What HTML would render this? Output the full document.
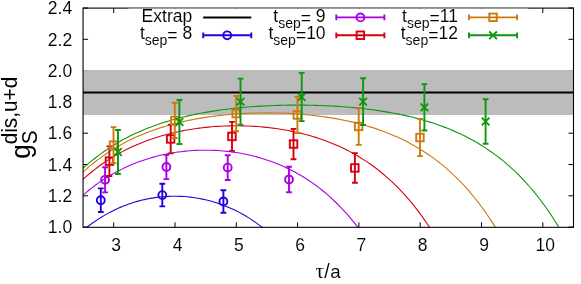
<!DOCTYPE html>
<html><head><meta charset="utf-8"><title>plot</title>
<style>html,body{margin:0;padding:0;background:#fff;}body{width:581px;height:284px;position:relative;overflow:hidden;font-family:"Liberation Sans",sans-serif;}</style>
</head><body>
<svg width="581" height="284" viewBox="0 0 581 284" style="position:absolute;left:0;top:0;will-change:transform">
<defs><clipPath id="cp"><rect x="83.05" y="8.10" width="490.45" height="219.20"/></clipPath></defs>
<g stroke="#000" stroke-width="1" fill="none">
<path d="M83.05 227.1h5M573.5 227.1h-5"/>
<path d="M83.05 195.8h5M573.5 195.8h-5"/>
<path d="M83.05 164.5h5M573.5 164.5h-5"/>
<path d="M83.05 133.2h5M573.5 133.2h-5"/>
<path d="M83.05 101.9h5M573.5 101.9h-5"/>
<path d="M83.05 70.6h5M573.5 70.6h-5"/>
<path d="M83.05 39.3h5M573.5 39.3h-5"/>
<path d="M83.05 8.0h5M573.5 8.0h-5"/>
<path d="M113.7 227.3v-5M113.7 8.1v5"/>
<path d="M175.0 227.3v-5M175.0 8.1v5"/>
<path d="M236.3 227.3v-5M236.3 8.1v5"/>
<path d="M297.6 227.3v-5M297.6 8.1v5"/>
<path d="M358.9 227.3v-5M358.9 8.1v5"/>
<path d="M420.2 227.3v-5M420.2 8.1v5"/>
<path d="M481.5 227.3v-5M481.5 8.1v5"/>
<path d="M542.8 227.3v-5M542.8 8.1v5"/>
</g>
<rect x="83.05" y="70.1" width="490.45" height="44.9" fill="#bcbcbc"/>
<line x1="83.05" x2="573.5" y1="92.5" y2="92.5" stroke="#000" stroke-width="1.85"/>
<g clip-path="url(#cp)" fill="none" stroke-width="1.1">
<path d="M83.00 230.40 L86.06 227.92 L89.12 225.56 L92.19 223.31 L95.25 221.17 L98.31 219.13 L101.37 217.20 L104.44 215.37 L107.50 213.63 L110.56 211.99 L113.62 210.45 L116.69 208.99 L119.75 207.62 L122.81 206.34 L125.87 205.14 L128.94 204.02 L132.00 202.98 L135.06 202.02 L138.12 201.14 L141.19 200.33 L144.25 199.60 L147.31 198.94 L150.37 198.36 L153.44 197.85 L156.50 197.41 L159.56 197.03 L162.62 196.73 L165.69 196.50 L168.75 196.34 L171.81 196.24 L174.87 196.22 L177.94 196.26 L181.00 196.37 L184.06 196.55 L187.12 196.80 L190.19 197.12 L193.25 197.50 L196.31 197.96 L199.37 198.49 L202.44 199.10 L205.50 199.77 L208.56 200.52 L211.62 201.34 L214.69 202.24 L217.75 203.22 L220.81 204.28 L223.87 205.42 L226.94 206.64 L230.00 207.94 L233.06 209.33 L236.12 210.81 L239.19 212.38 L242.25 214.04 L245.31 215.80 L248.37 217.65 L251.44 219.61 L254.50 221.67 L257.56 223.84 L260.62 226.11 L263.69 228.50 L266.75 231.01 L269.81 233.64 L272.87 236.39 L275.94 239.27 L279.00 242.29" stroke="#2800de"/>
<path d="M83.00 195.17 L86.06 192.55 L89.12 190.03 L92.19 187.62 L95.25 185.31 L98.31 183.11 L101.37 180.99 L104.44 178.97 L107.50 177.04 L110.56 175.20 L113.62 173.43 L116.69 171.75 L119.75 170.15 L122.81 168.63 L125.87 167.18 L128.94 165.80 L132.00 164.49 L135.06 163.24 L138.12 162.07 L141.19 160.96 L144.25 159.91 L147.31 158.92 L150.37 157.99 L153.44 157.11 L156.50 156.30 L159.56 155.54 L162.62 154.83 L165.69 154.18 L168.75 153.58 L171.81 153.03 L174.87 152.53 L177.94 152.08 L181.00 151.68 L184.06 151.33 L187.12 151.03 L190.19 150.77 L193.25 150.56 L196.31 150.40 L199.37 150.29 L202.44 150.22 L205.50 150.19 L208.56 150.22 L211.62 150.29 L214.69 150.40 L217.75 150.56 L220.81 150.77 L223.87 151.03 L226.94 151.33 L230.00 151.68 L233.06 152.08 L236.12 152.53 L239.19 153.03 L242.25 153.58 L245.31 154.18 L248.37 154.83 L251.44 155.54 L254.50 156.30 L257.56 157.11 L260.62 157.99 L263.69 158.92 L266.75 159.91 L269.81 160.96 L272.87 162.07 L275.94 163.24 L279.00 164.49 L282.06 165.80 L285.12 167.18 L288.19 168.63 L291.25 170.15 L294.31 171.75 L297.37 173.43 L300.44 175.20 L303.50 177.04 L306.56 178.97 L309.62 180.99 L312.69 183.11 L315.75 185.31 L318.81 187.62 L321.87 190.03 L324.94 192.55 L328.00 195.17 L331.06 197.91 L334.12 200.77 L337.19 203.75 L340.25 206.86 L343.31 210.10 L346.37 213.47 L349.44 216.98 L352.50 220.65 L355.56 224.46 L358.62 228.43 L361.69 232.57 L364.75 236.87 L367.81 241.35" stroke="#aa00e6"/>
<path d="M83.00 179.29 L86.06 176.57 L89.12 173.97 L92.19 171.46 L95.25 169.06 L98.31 166.75 L101.37 164.54 L104.44 162.41 L107.50 160.38 L110.56 158.42 L113.62 156.55 L116.69 154.75 L119.75 153.03 L122.81 151.38 L125.87 149.81 L128.94 148.30 L132.00 146.85 L135.06 145.47 L138.12 144.15 L141.19 142.89 L144.25 141.68 L147.31 140.53 L150.37 139.44 L153.44 138.40 L156.50 137.40 L159.56 136.46 L162.62 135.56 L165.69 134.71 L168.75 133.91 L171.81 133.15 L174.87 132.43 L177.94 131.76 L181.00 131.12 L184.06 130.52 L187.12 129.97 L190.19 129.45 L193.25 128.96 L196.31 128.52 L199.37 128.11 L202.44 127.73 L205.50 127.39 L208.56 127.08 L211.62 126.81 L214.69 126.57 L217.75 126.36 L220.81 126.19 L223.87 126.04 L226.94 125.93 L230.00 125.85 L233.06 125.81 L236.12 125.79 L239.19 125.81 L242.25 125.85 L245.31 125.93 L248.37 126.04 L251.44 126.19 L254.50 126.36 L257.56 126.57 L260.62 126.81 L263.69 127.08 L266.75 127.39 L269.81 127.73 L272.87 128.11 L275.94 128.52 L279.00 128.96 L282.06 129.45 L285.12 129.97 L288.19 130.52 L291.25 131.12 L294.31 131.76 L297.37 132.43 L300.44 133.15 L303.50 133.91 L306.56 134.71 L309.62 135.56 L312.69 136.46 L315.75 137.40 L318.81 138.40 L321.87 139.44 L324.94 140.53 L328.00 141.68 L331.06 142.89 L334.12 144.15 L337.19 145.47 L340.25 146.85 L343.31 148.30 L346.37 149.81 L349.44 151.38 L352.50 153.03 L355.56 154.75 L358.62 156.55 L361.69 158.42 L364.75 160.38 L367.81 162.41 L370.87 164.54 L373.94 166.75 L377.00 169.06 L380.06 171.46 L383.12 173.97 L386.19 176.57 L389.25 179.29 L392.31 182.12 L395.37 185.06 L398.44 188.12 L401.50 191.31 L404.56 194.63 L407.62 198.09 L410.69 201.68 L413.75 205.42 L416.81 209.31 L419.87 213.36 L422.94 217.57 L426.00 221.96 L429.06 226.51 L432.12 231.25 L435.19 236.18 L438.25 241.31" stroke="#d8000f"/>
<path d="M83.00 172.04 L86.06 169.30 L89.12 166.67 L92.19 164.15 L95.25 161.72 L98.31 159.39 L101.37 157.14 L104.44 154.99 L107.50 152.92 L110.56 150.93 L113.62 149.02 L116.69 147.19 L119.75 145.43 L122.81 143.73 L125.87 142.11 L128.94 140.55 L132.00 139.06 L135.06 137.62 L138.12 136.25 L141.19 134.93 L144.25 133.66 L147.31 132.45 L150.37 131.29 L153.44 130.17 L156.50 129.11 L159.56 128.09 L162.62 127.11 L165.69 126.18 L168.75 125.28 L171.81 124.43 L174.87 123.62 L177.94 122.84 L181.00 122.10 L184.06 121.40 L187.12 120.73 L190.19 120.09 L193.25 119.49 L196.31 118.91 L199.37 118.37 L202.44 117.86 L205.50 117.37 L208.56 116.91 L211.62 116.48 L214.69 116.08 L217.75 115.71 L220.81 115.35 L223.87 115.03 L226.94 114.73 L230.00 114.45 L233.06 114.20 L236.12 113.97 L239.19 113.76 L242.25 113.57 L245.31 113.41 L248.37 113.27 L251.44 113.15 L254.50 113.06 L257.56 112.98 L260.62 112.93 L263.69 112.90 L266.75 112.89 L269.81 112.90 L272.87 112.93 L275.94 112.98 L279.00 113.06 L282.06 113.15 L285.12 113.27 L288.19 113.41 L291.25 113.57 L294.31 113.76 L297.37 113.97 L300.44 114.20 L303.50 114.45 L306.56 114.73 L309.62 115.03 L312.69 115.35 L315.75 115.71 L318.81 116.08 L321.87 116.48 L324.94 116.91 L328.00 117.37 L331.06 117.86 L334.12 118.37 L337.19 118.91 L340.25 119.49 L343.31 120.09 L346.37 120.73 L349.44 121.40 L352.50 122.10 L355.56 122.84 L358.62 123.62 L361.69 124.43 L364.75 125.28 L367.81 126.18 L370.87 127.11 L373.94 128.09 L377.00 129.11 L380.06 130.17 L383.12 131.29 L386.19 132.45 L389.25 133.66 L392.31 134.93 L395.37 136.25 L398.44 137.62 L401.50 139.06 L404.56 140.55 L407.62 142.11 L410.69 143.73 L413.75 145.43 L416.81 147.19 L419.87 149.02 L422.94 150.93 L426.00 152.92 L429.06 154.99 L432.12 157.14 L435.19 159.39 L438.25 161.72 L441.31 164.15 L444.37 166.67 L447.44 169.30 L450.50 172.04 L453.56 174.88 L456.62 177.84 L459.69 180.92 L462.75 184.12 L465.81 187.45 L468.87 190.91 L471.94 194.52 L475.00 198.26 L478.06 202.16 L481.12 206.21 L484.19 210.42 L487.25 214.80 L490.31 219.35 L493.37 224.09 L496.44 229.01 L499.50 234.13 L502.56 239.46" stroke="#cc7a0c"/>
<path d="M83.00 168.33 L86.06 165.59 L89.12 162.95 L92.19 160.41 L95.25 157.97 L98.31 155.62 L101.37 153.36 L104.44 151.19 L107.50 149.11 L110.56 147.10 L113.62 145.18 L116.69 143.32 L119.75 141.54 L122.81 139.83 L125.87 138.19 L128.94 136.60 L132.00 135.08 L135.06 133.62 L138.12 132.22 L141.19 130.88 L144.25 129.58 L147.31 128.34 L150.37 127.14 L153.44 126.00 L156.50 124.90 L159.56 123.84 L162.62 122.83 L165.69 121.86 L168.75 120.92 L171.81 120.03 L174.87 119.17 L177.94 118.35 L181.00 117.56 L184.06 116.81 L187.12 116.09 L190.19 115.40 L193.25 114.73 L196.31 114.10 L199.37 113.50 L202.44 112.92 L205.50 112.37 L208.56 111.84 L211.62 111.34 L214.69 110.86 L217.75 110.41 L220.81 109.98 L223.87 109.57 L226.94 109.18 L230.00 108.81 L233.06 108.46 L236.12 108.13 L239.19 107.83 L242.25 107.53 L245.31 107.26 L248.37 107.01 L251.44 106.77 L254.50 106.55 L257.56 106.34 L260.62 106.16 L263.69 105.98 L266.75 105.83 L269.81 105.69 L272.87 105.56 L275.94 105.45 L279.00 105.36 L282.06 105.28 L285.12 105.21 L288.19 105.16 L291.25 105.12 L294.31 105.10 L297.37 105.10 L300.44 105.10 L303.50 105.12 L306.56 105.16 L309.62 105.21 L312.69 105.28 L315.75 105.36 L318.81 105.45 L321.87 105.56 L324.94 105.69 L328.00 105.83 L331.06 105.98 L334.12 106.16 L337.19 106.34 L340.25 106.55 L343.31 106.77 L346.37 107.01 L349.44 107.26 L352.50 107.53 L355.56 107.83 L358.62 108.13 L361.69 108.46 L364.75 108.81 L367.81 109.18 L370.87 109.57 L373.94 109.98 L377.00 110.41 L380.06 110.86 L383.12 111.34 L386.19 111.84 L389.25 112.37 L392.31 112.92 L395.37 113.50 L398.44 114.10 L401.50 114.73 L404.56 115.40 L407.62 116.09 L410.69 116.81 L413.75 117.56 L416.81 118.35 L419.87 119.17 L422.94 120.03 L426.00 120.92 L429.06 121.86 L432.12 122.83 L435.19 123.84 L438.25 124.90 L441.31 126.00 L444.37 127.14 L447.44 128.34 L450.50 129.58 L453.56 130.88 L456.62 132.22 L459.69 133.62 L462.75 135.08 L465.81 136.60 L468.87 138.19 L471.94 139.83 L475.00 141.54 L478.06 143.32 L481.12 145.18 L484.19 147.10 L487.25 149.11 L490.31 151.19 L493.37 153.36 L496.44 155.62 L499.50 157.97 L502.56 160.41 L505.62 162.95 L508.69 165.59 L511.75 168.33 L514.81 171.18 L517.88 174.15 L520.94 177.24 L524.00 180.45 L527.06 183.78 L530.13 187.25 L533.19 190.86 L536.25 194.61 L539.31 198.51 L542.38 202.56 L545.44 206.78 L548.50 211.16 L551.56 215.71 L554.63 220.45 L557.69 225.37 L560.75 230.49 L563.81 235.82 L566.88 241.35" stroke="#0c980c"/>
</g>
<path d="M100.8 188.4V212.0M97.9 188.4H103.7M97.9 212.0H103.7" stroke="#2800de" stroke-width="1.9" fill="none"/>
<circle cx="100.8" cy="200.2" r="3.95" fill="none" stroke="#2800de" stroke-width="1.9"/>
<path d="M162.3 183.8V206.4M159.4 183.8H165.2M159.4 206.4H165.2" stroke="#2800de" stroke-width="1.9" fill="none"/>
<circle cx="162.3" cy="195.1" r="3.95" fill="none" stroke="#2800de" stroke-width="1.9"/>
<path d="M223.4 190.2V212.8M220.5 190.2H226.3M220.5 212.8H226.3" stroke="#2800de" stroke-width="1.9" fill="none"/>
<circle cx="223.4" cy="201.5" r="3.95" fill="none" stroke="#2800de" stroke-width="1.9"/>
<path d="M105.1 167.2V192.4M102.2 167.2H108.0M102.2 192.4H108.0" stroke="#aa00e6" stroke-width="1.9" fill="none"/>
<circle cx="105.1" cy="179.8" r="3.95" fill="none" stroke="#aa00e6" stroke-width="1.9"/>
<path d="M166.4 154.9V179.1M163.5 154.9H169.3M163.5 179.1H169.3" stroke="#aa00e6" stroke-width="1.9" fill="none"/>
<circle cx="166.4" cy="167.0" r="3.95" fill="none" stroke="#aa00e6" stroke-width="1.9"/>
<path d="M227.7 155.2V180.0M224.8 155.2H230.6M224.8 180.0H230.6" stroke="#aa00e6" stroke-width="1.9" fill="none"/>
<circle cx="227.7" cy="167.6" r="3.95" fill="none" stroke="#aa00e6" stroke-width="1.9"/>
<path d="M289.0 166.8V192.2M286.1 166.8H291.9M286.1 192.2H291.9" stroke="#aa00e6" stroke-width="1.9" fill="none"/>
<circle cx="289.0" cy="179.5" r="3.95" fill="none" stroke="#aa00e6" stroke-width="1.9"/>
<path d="M109.4 146.4V176.0M106.5 146.4H112.3M106.5 176.0H112.3" stroke="#d8000f" stroke-width="1.9" fill="none"/>
<rect x="105.7" y="157.4" width="7.5" height="7.5" fill="none" stroke="#d8000f" stroke-width="1.9"/>
<path d="M170.7 124.6V153.4M167.8 124.6H173.6M167.8 153.4H173.6" stroke="#d8000f" stroke-width="1.9" fill="none"/>
<rect x="166.9" y="135.2" width="7.5" height="7.5" fill="none" stroke="#d8000f" stroke-width="1.9"/>
<path d="M232.0 121.9V150.9M229.1 121.9H234.9M229.1 150.9H234.9" stroke="#d8000f" stroke-width="1.9" fill="none"/>
<rect x="228.2" y="132.7" width="7.5" height="7.5" fill="none" stroke="#d8000f" stroke-width="1.9"/>
<path d="M293.5 128.9V159.3M290.6 128.9H296.4M290.6 159.3H296.4" stroke="#d8000f" stroke-width="1.9" fill="none"/>
<rect x="289.8" y="140.3" width="7.5" height="7.5" fill="none" stroke="#d8000f" stroke-width="1.9"/>
<path d="M354.9 153.1V182.7M352.0 153.1H357.8M352.0 182.7H357.8" stroke="#d8000f" stroke-width="1.9" fill="none"/>
<rect x="351.1" y="164.2" width="7.5" height="7.5" fill="none" stroke="#d8000f" stroke-width="1.9"/>
<path d="M113.5 127.1V163.3M110.6 127.1H116.4M110.6 163.3H116.4" stroke="#cc7a0c" stroke-width="1.9" fill="none"/>
<rect x="109.8" y="141.4" width="7.5" height="7.5" fill="none" stroke="#cc7a0c" stroke-width="1.9"/>
<path d="M174.8 102.8V138.0M171.9 102.8H177.7M171.9 138.0H177.7" stroke="#cc7a0c" stroke-width="1.9" fill="none"/>
<rect x="171.1" y="116.7" width="7.5" height="7.5" fill="none" stroke="#cc7a0c" stroke-width="1.9"/>
<path d="M236.2 96.0V131.2M233.3 96.0H239.1M233.3 131.2H239.1" stroke="#cc7a0c" stroke-width="1.9" fill="none"/>
<rect x="232.4" y="109.8" width="7.5" height="7.5" fill="none" stroke="#cc7a0c" stroke-width="1.9"/>
<path d="M297.4 96.8V133.0M294.5 96.8H300.3M294.5 133.0H300.3" stroke="#cc7a0c" stroke-width="1.9" fill="none"/>
<rect x="293.6" y="111.2" width="7.5" height="7.5" fill="none" stroke="#cc7a0c" stroke-width="1.9"/>
<path d="M358.7 107.9V144.9M355.8 107.9H361.6M355.8 144.9H361.6" stroke="#cc7a0c" stroke-width="1.9" fill="none"/>
<rect x="354.9" y="122.7" width="7.5" height="7.5" fill="none" stroke="#cc7a0c" stroke-width="1.9"/>
<path d="M420.0 118.9V156.1M417.1 118.9H422.9M417.1 156.1H422.9" stroke="#cc7a0c" stroke-width="1.9" fill="none"/>
<rect x="416.2" y="133.8" width="7.5" height="7.5" fill="none" stroke="#cc7a0c" stroke-width="1.9"/>
<path d="M118.0 130.0V174.0M115.1 130.0H120.9M115.1 174.0H120.9" stroke="#0c980c" stroke-width="1.9" fill="none"/>
<path d="M114.2 148.2L121.8 155.8M114.2 155.8L121.8 148.2" stroke="#0c980c" stroke-width="1.9" fill="none"/>
<path d="M179.4 100.0V144.0M176.5 100.0H182.3M176.5 144.0H182.3" stroke="#0c980c" stroke-width="1.9" fill="none"/>
<path d="M175.6 118.2L183.2 125.8M175.6 125.8L183.2 118.2" stroke="#0c980c" stroke-width="1.9" fill="none"/>
<path d="M240.5 78.6V124.6M237.6 78.6H243.4M237.6 124.6H243.4" stroke="#0c980c" stroke-width="1.9" fill="none"/>
<path d="M236.7 97.8L244.3 105.4M236.7 105.4L244.3 97.8" stroke="#0c980c" stroke-width="1.9" fill="none"/>
<path d="M301.7 72.9V121.1M298.8 72.9H304.6M298.8 121.1H304.6" stroke="#0c980c" stroke-width="1.9" fill="none"/>
<path d="M297.9 93.2L305.5 100.8M297.9 100.8L305.5 93.2" stroke="#0c980c" stroke-width="1.9" fill="none"/>
<path d="M363.1 78.2V125.0M360.2 78.2H366.0M360.2 125.0H366.0" stroke="#0c980c" stroke-width="1.9" fill="none"/>
<path d="M359.3 97.8L366.9 105.4M359.3 105.4L366.9 97.8" stroke="#0c980c" stroke-width="1.9" fill="none"/>
<path d="M424.4 84.1V130.5M421.5 84.1H427.3M421.5 130.5H427.3" stroke="#0c980c" stroke-width="1.9" fill="none"/>
<path d="M420.6 103.5L428.2 111.1M420.6 111.1L428.2 103.5" stroke="#0c980c" stroke-width="1.9" fill="none"/>
<path d="M485.6 99.3V143.7M482.7 99.3H488.5M482.7 143.7H488.5" stroke="#0c980c" stroke-width="1.9" fill="none"/>
<path d="M481.8 117.7L489.4 125.3M481.8 125.3L489.4 117.7" stroke="#0c980c" stroke-width="1.9" fill="none"/>
<rect x="83.05" y="8.1" width="490.45" height="219.20000000000002" fill="none" stroke="#000" stroke-width="1.1"/>
<rect x="128.5" y="8.6" width="399.5" height="36" fill="#fff"/>
<g font-family="Liberation Sans, sans-serif" font-size="17.5px" fill="#000" stroke="#fff" stroke-width="0.07">
<text x="72.2" y="233.2" text-anchor="end">1.0</text>
<text x="72.2" y="202.0" text-anchor="end">1.2</text>
<text x="72.2" y="170.7" text-anchor="end">1.4</text>
<text x="72.2" y="139.4" text-anchor="end">1.6</text>
<text x="72.2" y="108.1" text-anchor="end">1.8</text>
<text x="72.2" y="76.8" text-anchor="end">2.0</text>
<text x="72.2" y="45.5" text-anchor="end">2.2</text>
<text x="72.2" y="14.2" text-anchor="end">2.4</text>
<text x="116.2" y="251.2" text-anchor="middle">3</text>
<text x="177.5" y="251.2" text-anchor="middle">4</text>
<text x="238.8" y="251.2" text-anchor="middle">5</text>
<text x="300.1" y="251.2" text-anchor="middle">6</text>
<text x="361.4" y="251.2" text-anchor="middle">7</text>
<text x="422.7" y="251.2" text-anchor="middle">8</text>
<text x="484.0" y="251.2" text-anchor="middle">9</text>
<text x="545.3" y="251.2" text-anchor="middle">10</text>
<text x="315.6" y="277.9" font-size="18.8px"><tspan font-family="Liberation Serif, serif" font-size="21px">τ</tspan><tspan dx="0.2" font-size="19.5px">/</tspan><tspan dx="0.6">a</tspan></text>
<text x="192.2" y="22.3" text-anchor="end">Extrap</text>
<text x="192.2" y="39.3" text-anchor="end">t<tspan font-size="14px" dy="5.5">sep</tspan><tspan dy="-4.3">=</tspan><tspan dy="-1.2"> 8</tspan></text>
<text x="325.6" y="22.3" text-anchor="end">t<tspan font-size="14px" dy="5.5">sep</tspan><tspan dy="-4.3">=</tspan><tspan dy="-1.2"> 9</tspan></text>
<text x="325.6" y="39.3" text-anchor="end">t<tspan font-size="14px" dy="5.5">sep</tspan><tspan dy="-4.3">=</tspan><tspan dy="-1.2">10</tspan></text>
<text x="457.9" y="22.3" text-anchor="end">t<tspan font-size="14px" dy="5.5">sep</tspan><tspan dy="-4.3">=</tspan><tspan dy="-1.2">11</tspan></text>
<text x="457.9" y="39.3" text-anchor="end">t<tspan font-size="14px" dy="5.5">sep</tspan><tspan dy="-4.3">=</tspan><tspan dy="-1.2">12</tspan></text>
</g>
<line x1="203.2" x2="251.29999999999998" y1="17.4" y2="17.4" stroke="#000" stroke-width="2"/>
<path d="M203.2 35.3H251.29999999999998M203.2 32.4V38.199999999999996M251.29999999999998 32.4V38.199999999999996" stroke="#2800de" stroke-width="1.9" fill="none"/><circle cx="227.2" cy="35.3" r="3.95" fill="none" stroke="#2800de" stroke-width="1.9"/>
<path d="M336.3 17.4H384.40000000000003M336.3 14.499999999999998V20.299999999999997M384.40000000000003 14.499999999999998V20.299999999999997" stroke="#aa00e6" stroke-width="1.9" fill="none"/><circle cx="360.4" cy="17.4" r="3.95" fill="none" stroke="#aa00e6" stroke-width="1.9"/>
<path d="M336.3 35.3H384.40000000000003M336.3 32.4V38.199999999999996M384.40000000000003 32.4V38.199999999999996" stroke="#d8000f" stroke-width="1.9" fill="none"/><rect x="356.6" y="31.5" width="7.5" height="7.5" fill="none" stroke="#d8000f" stroke-width="1.9"/>
<path d="M469.0 17.4H517.1M469.0 14.499999999999998V20.299999999999997M517.1 14.499999999999998V20.299999999999997" stroke="#cc7a0c" stroke-width="1.9" fill="none"/><rect x="489.3" y="13.6" width="7.5" height="7.5" fill="none" stroke="#cc7a0c" stroke-width="1.9"/>
<path d="M469.0 35.3H517.1M469.0 32.4V38.199999999999996M517.1 32.4V38.199999999999996" stroke="#0c980c" stroke-width="1.9" fill="none"/><path d="M489.2 31.5L496.9 39.1M489.2 39.1L496.9 31.5" stroke="#0c980c" stroke-width="1.9" fill="none"/>
<g transform="translate(29.9,158.8) rotate(-90) scale(1,1.055)" font-family="Liberation Sans, sans-serif" fill="#000">
<text x="0" y="0" font-size="26px">g</text>
<text x="14.5" y="7.05" font-size="20.8px">S</text>
<text x="14.5" y="-12.25" font-size="20.8px">dis,u+d</text>
</g>
</svg>
</body></html>
